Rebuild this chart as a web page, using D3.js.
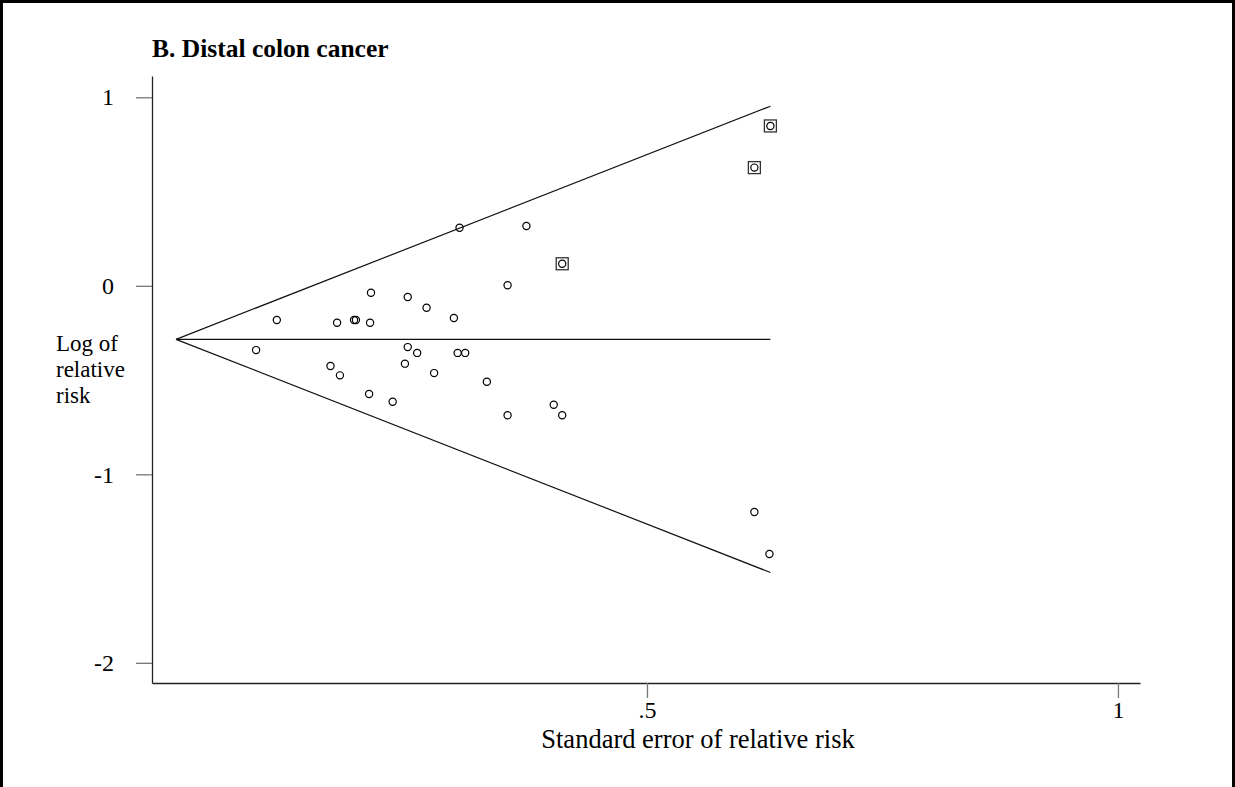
<!DOCTYPE html>
<html>
<head>
<meta charset="utf-8">
<script src="https://cdn.jsdelivr.net/npm/d3@7"></script>
<style>
    body { margin: 0; background: #fff; }
    svg { display: block; font-family: "Liberation Serif", "Times New Roman", serif; }
</style>
</head>
<body>
<div id="chart"></div>
<script>
(function () {
    "use strict";

    // standard error of each study (x) and its log relative risk (y)
    var seValues = [0.085, 0.107, 0.164, 0.171, 0.174, 0.189, 0.191, 0.205, 0.206, 0.207,
                    0.230, 0.243, 0.246, 0.246, 0.256, 0.266, 0.274, 0.295, 0.299, 0.301,
                    0.307, 0.330, 0.352, 0.352, 0.372, 0.401, 0.410, 0.614, 0.630];
    var logRR    = [-0.341, -0.181, -0.425, -0.196, -0.475, -0.181, -0.181, -0.574, -0.196, -0.037,
                    -0.615, -0.413, -0.059, -0.325, -0.356, -0.116, -0.463, -0.171, -0.356, 0.308,
                    -0.356, -0.509, 0.003, -0.687, 0.317, -0.631, -0.687, -1.200, -1.423];

    // studies drawn with a box around the circle
    var boxedSE  = [0.410, 0.614, 0.631];
    var boxedRR  = [0.117, 0.627, 0.848];

    // pooled estimate and the largest standard error (end of the funnel)
    var pooled = -0.284;
    var maxSE = 0.631;

    var xTicks = [0.5, 1];
    var xTickLabels = [".5", "1"];
    var yTicks = [1, 0, -1, -2];
    var yTickLabels = ["1", "0", "-1", "-2"];

    var W = 1235, H = 787;

    var svg = d3.select("#chart").append("svg")
        .attr("width", W)
        .attr("height", H);

    // outer frame
    svg.append("rect")
        .attr("x", 1.5).attr("y", 1.5)
        .attr("width", W - 3).attr("height", H + 10)
        .attr("fill", "none")
        .attr("stroke", "#000")
        .attr("stroke-width", 3);

    var x = d3.scaleLinear().domain([-0.0255, 1.0234]).range([152, 1140]);
    var y = d3.scaleLinear().domain([-2.107, 1.113]).range([683, 76]);

    // y axis
    var yAxis = svg.append("g")
        .attr("transform", "translate(152,0)")
        .call(d3.axisLeft(y)
            .tickValues(yTicks)
            .tickSize(16)
            .tickPadding(22)
            .tickSizeOuter(0)
            .tickFormat(function (d, i) { return yTickLabels[i]; }));

    // x axis
    var xAxis = svg.append("g")
        .attr("transform", "translate(0,683)")
        .call(d3.axisBottom(x)
            .tickValues(xTicks)
            .tickSize(15)
            .tickPadding(3)
            .tickSizeOuter(0)
            .tickFormat(function (d, i) { return xTickLabels[i]; }));

    [yAxis, xAxis].forEach(function (ax) {
        ax.select(".domain").attr("stroke", "#222").attr("stroke-width", 1.3);
        ax.selectAll(".tick line").attr("stroke", "#777").attr("stroke-width", 1.3);
        ax.selectAll(".tick text")
            .attr("fill", "#000")
            .style("font-size", "24px")
            .style("font-family", "'Liberation Serif', serif");
    });

    // funnel: pooled line and pseudo 95% limits
    var line = d3.line()
        .x(function (d) { return x(d[0]); })
        .y(function (d) { return y(d[1]); });

    var funnel = [
        [[0, pooled], [maxSE, pooled]],
        [[0, pooled], [maxSE, pooled + 1.96 * maxSE]],
        [[0, pooled], [maxSE, pooled - 1.96 * maxSE]]
    ];

    svg.selectAll("path.funnel")
        .data(funnel)
        .enter()
        .append("path")
        .attr("class", "funnel")
        .attr("d", line)
        .attr("fill", "none")
        .attr("stroke", "#111")
        .attr("stroke-width", 1.2);

    // boxes round the marked studies
    svg.selectAll("rect.box")
        .data(boxedSE)
        .enter()
        .append("rect")
        .attr("class", "box")
        .attr("x", function (d) { return x(d) - 6; })
        .attr("y", function (d, i) { return y(boxedRR[i]) - 6; })
        .attr("width", 12)
        .attr("height", 12)
        .attr("fill", "none")
        .attr("stroke", "#333")
        .attr("stroke-width", 1.3);

    // all studies as open circles
    var allSE = seValues.concat(boxedSE);
    var allRR = logRR.concat(boxedRR);

    svg.selectAll("circle.study")
        .data(allSE)
        .enter()
        .append("circle")
        .attr("class", "study")
        .attr("cx", function (d) { return x(d); })
        .attr("cy", function (d, i) { return y(allRR[i]); })
        .attr("r", 3.6)
        .attr("fill", "none")
        .attr("stroke", "#000")
        .attr("stroke-width", 1.2);

    // title
    svg.append("text")
        .attr("x", 152)
        .attr("y", 57)
        .style("font-size", "25.5px")
        .style("font-weight", "bold")
        .text("B. Distal colon cancer");

    // x axis title
    svg.append("text")
        .attr("x", 698)
        .attr("y", 748)
        .attr("text-anchor", "middle")
        .style("font-size", "26.5px")
        .text("Standard error of relative risk");

    // y axis title on three lines
    var yTitle = svg.append("text")
        .attr("x", 56)
        .attr("y", 351)
        .style("font-size", "23px");

    ["Log of", "relative", "risk"].forEach(function (t, i) {
        yTitle.append("tspan")
            .attr("x", 56)
            .attr("dy", i === 0 ? 0 : 26)
            .text(t);
    });
})();
</script>
</body>
</html>
